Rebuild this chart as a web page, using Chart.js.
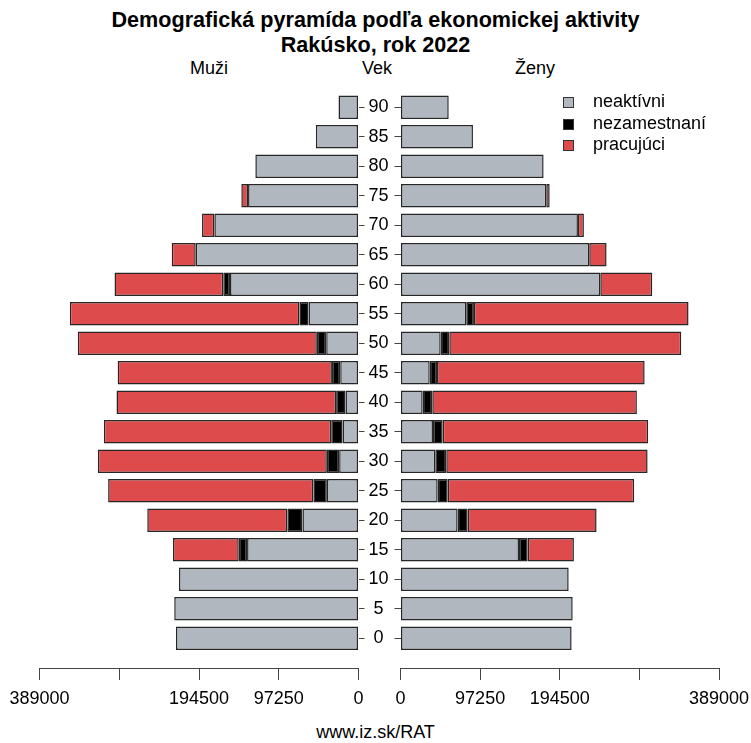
<!DOCTYPE html>
<html><head><meta charset="utf-8">
<script src="https://cdn.jsdelivr.net/npm/chart.js@4.4.1/dist/chart.umd.min.js"></script>
<style>
html,body{margin:0;padding:0;background:#fff;}
#wrap{position:relative;width:751px;height:743px;font-family:"Liberation Sans",Arial,sans-serif;color:#000;overflow:hidden;background:#fff}
canvas{position:absolute;top:0}
.t{position:absolute;white-space:nowrap;transform:translateX(-50%);line-height:1}
#legend{position:absolute;left:563px;top:91px;font-size:18px;line-height:21.5px}
#legend .row{position:relative;height:21.5px;padding-left:30px;white-space:nowrap}
#legend .sw{position:absolute;left:0;top:6px;width:9px;height:9px;border:1px solid #333}
</style></head><body>
<div id="wrap">
  <div class="t" style="left:375.5px;top:9px;font-weight:bold;font-size:21.6px">Demografická pyramída podľa ekonomickej aktivity</div>
  <div class="t" style="left:375.5px;top:33.5px;font-weight:bold;font-size:21.6px">Rakúsko, rok 2022</div>
  <div class="t" style="left:209px;top:58.5px;font-size:18px">Muži</div>
  <div class="t" style="left:377px;top:58.5px;font-size:18px">Vek</div>
  <div class="t" style="left:535px;top:58.5px;font-size:18px">Ženy</div>
  <div class="t" style="left:375.5px;top:723px;font-size:18px">www.iz.sk/RAT</div>
  <canvas id="men" width="400" height="743" style="left:0;width:400px;height:743px"></canvas>
  <canvas id="women" width="393" height="743" style="left:358px;width:393px;height:743px"></canvas>
  <div id="legend"></div>
</div>
<script>
// ---- data ----
const ages = [0, 5, 10, 15, 20, 25, 30, 35, 40, 45, 50, 55, 60, 65, 70, 75, 80, 85, 90];
const seriesNames = ['neaktívni', 'nezamestnaní', 'pracujúci'];
const menInactive   = [222600, 224700, 218900, 135900, 68400, 38600, 23600, 19500, 15900, 22300, 39400, 61000, 156700, 198500, 175800, 134700, 125800, 52000, 24400];
const menUnemployed = [0, 0, 0, 10100, 18300, 16400, 15000, 13800, 11400, 10100, 11400, 11000, 8200, 0, 0, 0, 0, 0, 0];
const menEmployed   = [0, 0, 0, 80200, 170900, 250300, 279200, 277200, 267800, 261300, 291500, 280000, 132600, 29300, 15000, 8200, 0, 0, 0];
const womenInactive   = [209000, 210300, 205400, 144700, 69800, 45400, 42500, 39700, 27100, 35700, 49100, 80300, 244000, 230500, 216700, 178000, 174800, 88500, 58900];
const womenUnemployed = [0, 0, 0, 10600, 12200, 12200, 13400, 11800, 11700, 8900, 10500, 9400, 0, 0, 0, 0, 0, 0, 0];
const womenEmployed   = [0, 0, 0, 56500, 157500, 227800, 245900, 251000, 249900, 253600, 283300, 262100, 63500, 21200, 7300, 4200, 0, 0, 0];
const xTicks      = [0, 97250, 194500, 291750, 389000];
const xTickLabels = ['0', '97250', '194500', '', '389000'];

// ---- styles ----
const fills = ['rgb(176,183,191)', '#000000', 'rgb(222,75,77)'];
const edge = '#262626';
const axisCol = '#444444';
const FONT = "'Liberation Sans', Arial, sans-serif";
Chart.defaults.font.family = FONT;
Chart.defaults.font.size = 18;
Chart.defaults.color = '#000';

const Y_MIN = -5.052, Y_MAX = 92.551;

function makeSets(series) {
  return series.map((vals, k) => ({
    label: seriesNames[k],
    data: ages.map((a, i) => ({ y: a, x: vals[i] > 0 ? vals[i] : null })),
    backgroundColor: fills[k],
    borderColor: edge,
    borderWidth: 1.5,
    borderSkipped: false,
    barPercentage: 0.8,
    categoryPercentage: 1
  }));
}

function makeChart(id, series, left) {
  return new Chart(document.getElementById(id), {
    type: 'bar',
    data: { datasets: makeSets(series) },
    options: {
      indexAxis: 'y',
      responsive: false,
      animation: false,
      layout: { padding: left ? { left: 39.5, right: 0, top: 92.25, bottom: 30 }
                              : { left: 0, right: 32, top: 92.25, bottom: 30 } },
      plugins: { legend: { display: false }, tooltip: { enabled: false } },
      scales: {
        x: {
          type: 'linear', min: 0, max: 389000, reverse: left, stacked: true, position: 'bottom',
          afterBuildTicks: s => { s.ticks = xTicks.map(v => ({ value: v })); },
          ticks: { autoSkip: false, maxRotation: 0, padding: 8,
                   callback: v => xTickLabels[xTicks.indexOf(v)] },
          grid: { drawOnChartArea: false, tickLength: 12, color: axisCol, lineWidth: 1 },
          border: { display: true, color: axisCol, width: 1 },
          afterFit: s => { s.height = 45; s.paddingLeft = 0; s.paddingRight = 0; }
        },
        y: {
          type: 'linear', min: Y_MIN, max: Y_MAX, stacked: true, offset: false,
          position: left ? 'right' : 'left',
          afterBuildTicks: s => { s.ticks = ages.map(v => ({ value: v })); },
          ticks: { display: left, crossAlign: 'center', padding: 4, autoSkip: false,
                   callback: v => String(v) },
          grid: { offset: false, drawOnChartArea: false, tickLength: 6, color: axisCol, lineWidth: 1 },
          border: { display: false },
          afterFit: s => { s.width = left ? 41.5 : 42.5; s.paddingTop = 0; s.paddingBottom = 0; }
        }
      }
    }
  });
}

makeChart('men', [menInactive, menUnemployed, menEmployed], true);
const wc = makeChart('women', [womenInactive, womenUnemployed, womenEmployed], false);

// legend built from the datasets
const lg = document.getElementById('legend');
wc.data.datasets.forEach(ds => {
  const row = document.createElement('div'); row.className = 'row';
  const sw = document.createElement('span'); sw.className = 'sw'; sw.style.background = ds.backgroundColor;
  row.appendChild(sw); row.appendChild(document.createTextNode(ds.label));
  lg.appendChild(row);
});
</script>
</body></html>
